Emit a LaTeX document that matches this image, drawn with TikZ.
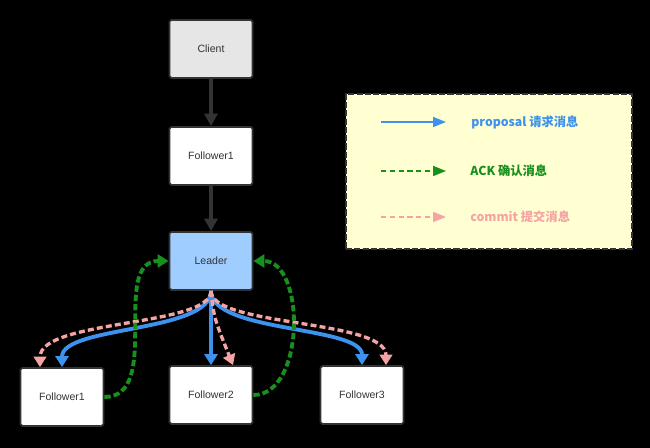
\documentclass[tikz,border=0pt]{standalone}
\usepackage{fontspec}
\setmainfont{Liberation Sans}
\newfontfamily\cjk{Noto Sans CJK SC}
\usetikzlibrary{arrows.meta,positioning}
\definecolor{nodeline}{HTML}{333333}
\definecolor{clientgray}{HTML}{E6E6E6}
\definecolor{leaderblue}{HTML}{9FCDFF}
\definecolor{legendyellow}{HTML}{FFFFD2}
\definecolor{propblue}{HTML}{3D92EE}
\definecolor{ackgreen}{HTML}{17901E}
\definecolor{cmtpink}{HTML}{F5A3A3}
\tikzset{
  % knoten
  box/.style={rectangle,draw=nodeline,fill=white,line width=1pt,rounded corners=1pt,
              minimum width=1.66cm,minimum height=1.16cm,inner sep=0pt,text=nodeline},
  cli/.style={fill=clientgray},
  lead/.style={fill=leaderblue},
  legbox/.style={rectangle,draw=nodeline,fill=legendyellow,line width=1.6pt,
                 dash pattern=on 3.5pt off 1.2pt,minimum width=5.72cm,minimum height=3.1cm},
  legtxt/.style={anchor=west,font=\cjk\fontsize{7}{8}\selectfont\bfseries,inner sep=0pt},
  % pfeile
  ctrl/.style={-{Triangle[length=2.5mm,width=2.6mm]},draw=nodeline,line width=2.8pt},
  prop/.style={-{Triangle[length=2.2mm,width=2.6mm]},draw=propblue,line width=2.2pt},
  cmt/.style={-{Triangle[length=2.1mm,width=2.5mm]},draw=cmtpink,line width=1.9pt,
              dash pattern=on 3.4pt off 1.8pt},
  ack/.style={-{Triangle[length=2.2mm,width=2.6mm]},draw=ackgreen,line width=2.2pt,
              dash pattern=on 3.6pt off 1.7pt},
  legprop/.style={-{Triangle[length=2.6mm,width=2mm]},draw=propblue,line width=1pt},
  legack/.style={-{Triangle[length=2.6mm,width=2mm]},draw=ackgreen,line width=1pt,
                 dash pattern=on 3pt off 2pt},
  legcmt/.style={-{Triangle[length=2.6mm,width=2mm]},draw=cmtpink,line width=1pt,
                 dash pattern=on 3pt off 2pt},
}
\begin{document}
\begin{tikzpicture}[every node/.append style={font=\fontsize{6}{7}\selectfont}]
  \fill[black] (0,0) rectangle (13,8.96);
  \useasboundingbox (0,0) rectangle (13,8.96);
  \node[box,cli] (client) at (4.22,7.98) {Client};
  \node[box] (fup) at (4.22,5.84) {Follower1};
  \node[box,lead] (leader) at (4.22,3.74) {Leader};
  \node[box] (fa) at (1.24,1.02) {Follower1};
  \node[box] (fb) at (4.22,1.06) {Follower2};
  \node[box] (fc) at (7.24,1.06) {Follower3};
  \draw[ctrl] (client) -- (fup);
  \draw[ctrl] (fup) -- (leader);
  \draw[prop] (leader.south) .. controls (4.22,2.3) and (1.24,2.45) .. (fa.north);
  \draw[prop] (leader.south) -- (fb.north);
  \draw[prop] (leader.south) .. controls (4.22,2.3) and (7.24,2.45) .. (fc.north);
  \draw[cmt] (leader.south) .. controls (4.22,2.42) and (0.8,2.58) .. ([xshift=-0.44cm]fa.north);
  \draw[cmt] (leader.south) .. controls (4.28,2.6) .. ([xshift=0.44cm]fb.north);
  \draw[cmt] (leader.south) .. controls (4.22,2.42) and (7.72,2.58) .. ([xshift=0.48cm]fc.north);
  \draw[ack] (fa.east) to[out=0,in=180] (leader.west);
  \draw[ack] (fb.east) to[out=0,in=0] (leader.east);
  % legende
  \node[legbox] (legend) at (9.78,5.53) {};
  \coordinate (p0) at (7.62,6.52);
  \coordinate (p1) at (8.92,6.52);
  \coordinate (a0) at (7.62,5.54);
  \coordinate (a1) at (8.92,5.54);
  \coordinate (c0) at (7.62,4.62);
  \coordinate (c1) at (8.92,4.62);
  \draw[legprop] (p0) -- (p1);
  \draw[legack] (a0) -- (a1);
  \draw[legcmt] (c0) -- (c1);
  \node[legtxt,text=propblue] (ptxt) at (9.42,6.52) {proposal 请求消息};
  \node[legtxt,text=ackgreen] (atxt) at (9.4,5.54) {ACK 确认消息};
  \node[legtxt,text=cmtpink] (ctxt) at (9.4,4.62) {commit 提交消息};
\end{tikzpicture}
\end{document}
